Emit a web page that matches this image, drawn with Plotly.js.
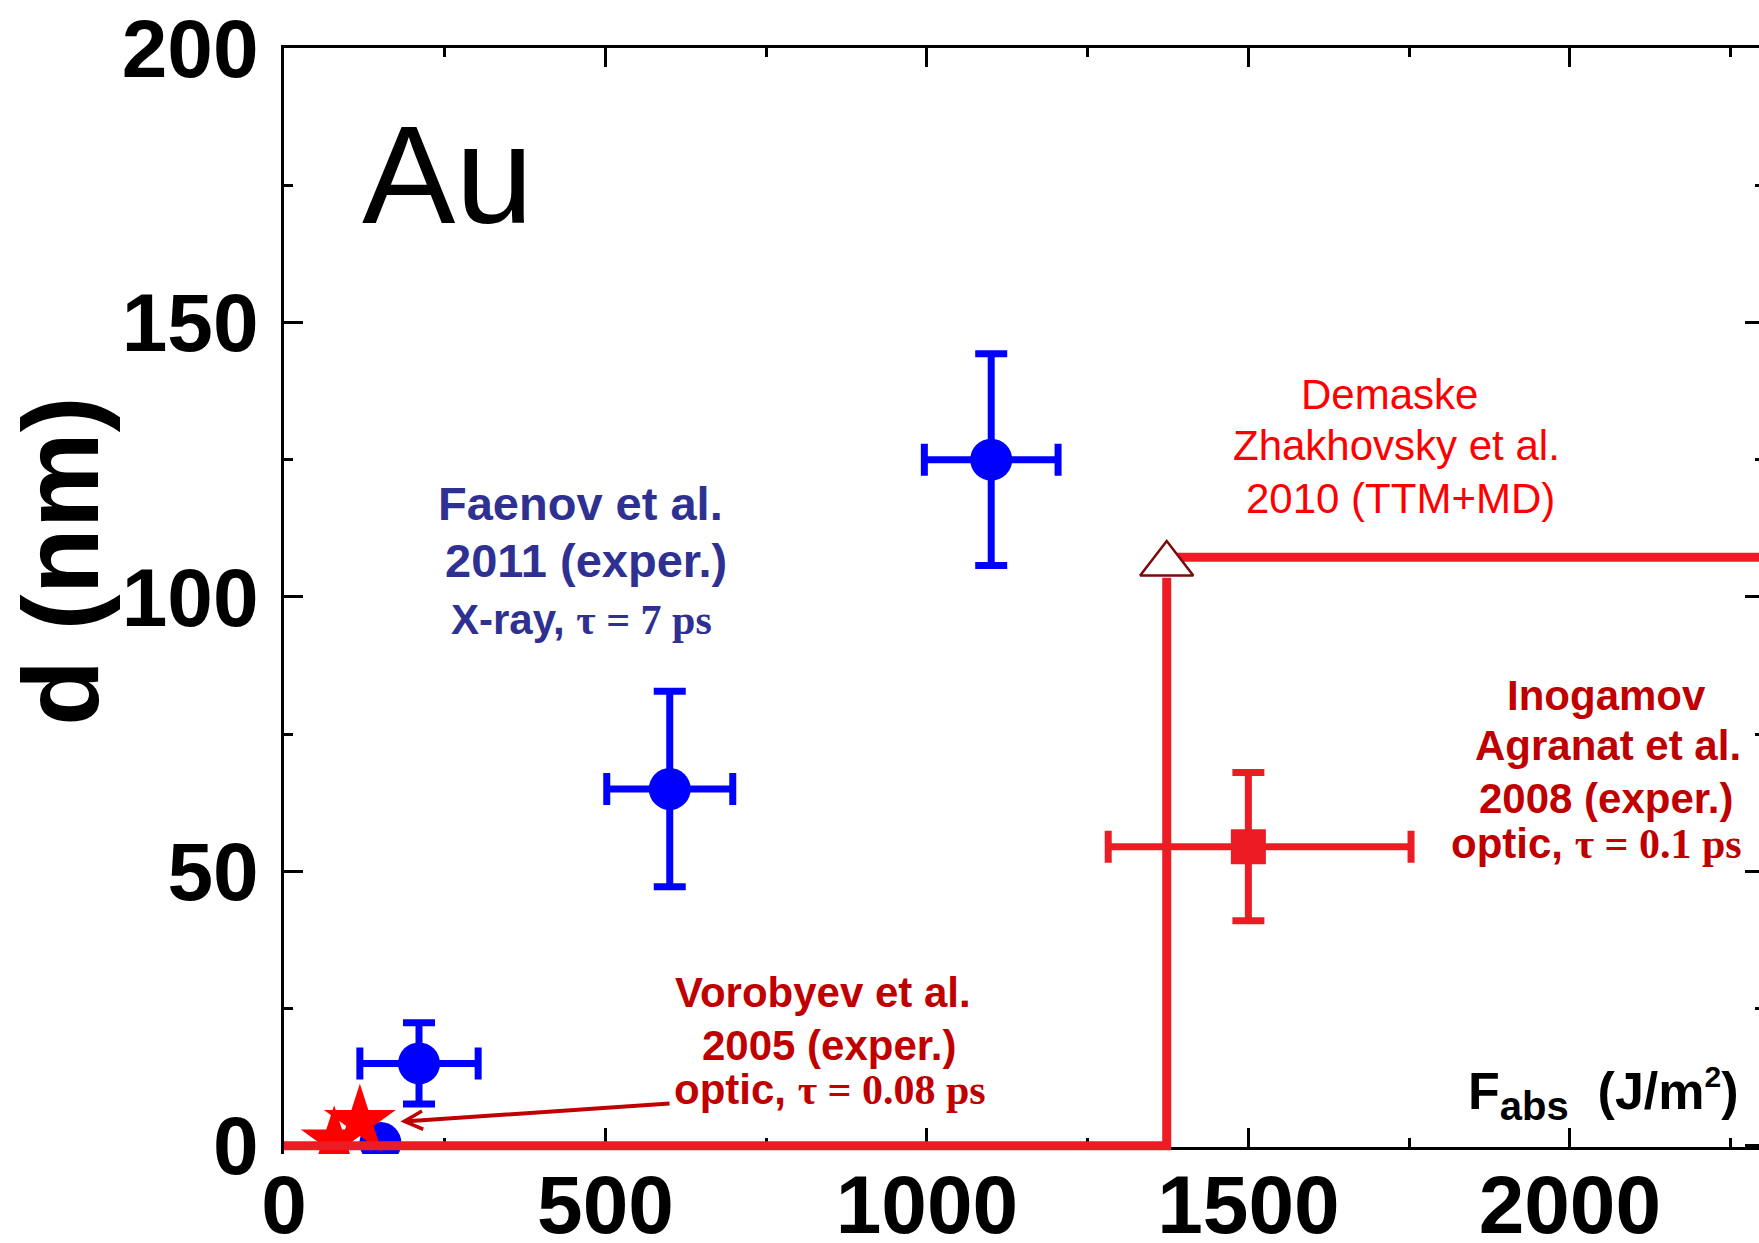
<!DOCTYPE html>
<html><head><meta charset="utf-8">
<script src="https://cdn.plot.ly/plotly-3.0.1.min.js"></script>
<style>html,body{margin:0;padding:0;overflow:hidden;background:#fff}</style>
</head><body><div id="chart" style="width:1764px;height:1243px"></div>
<script>
// ---- data ----
const faenovF = [210, 600, 1100];
const faenovD = [15, 65, 125];
const faenovFErr = [92, 98, 104];
const faenovDErr = [7.4, 17.8, 19.3];
const faenovLowF = [150];
const faenovLowD = [0.5];
const vorobyevF = [78, 118];
const vorobyevD = [1, 4.4];
const inogamovF = [1500];
const inogamovD = [54.5];
const inogamovFErrPlus = [253];
const inogamovFErrMinus = [218];
const inogamovDErr = [13.5];
const ttmLowF = [0, 1373, 1373];
const ttmLowD = [0, 0, 103.5];
const ttmThresholdF = [1373];
const ttmThresholdD = [106];
const ttmHighF = [1388, 2400];
const ttmHighD = [107.2, 107.2];
const xTickVals = [0, 500, 1000, 1500, 2000];
const xTickText = ['0', '500', '1000', '1500', '2000'];
const yTickVals = [0, 50, 100, 150, 200];
const yTickText = ['0', '50', '100', '150', '200'];

const SANS = 'Liberation Sans, Arial, sans-serif';
const SERIF = 'Liberation Serif';
const BLUE = '#0000ff', TXTBLUE = '#2e3192', DARKRED = '#c00000', RED = '#ed1c24', BRIGHT = '#ff0000';

const traces = [
  {x: faenovLowF, y: faenovLowD, mode: 'markers', type: 'scatter',
   marker: {symbol: 'circle', size: 42, color: BLUE}},
  {x: faenovF, y: faenovD, mode: 'markers', type: 'scatter',
   marker: {symbol: 'circle', size: 42, color: BLUE},
   error_x: {type: 'data', array: faenovFErr, color: BLUE, thickness: 7, width: 16},
   error_y: {type: 'data', array: faenovDErr, color: BLUE, thickness: 7, width: 16}},
  {x: vorobyevF, y: vorobyevD, mode: 'markers', type: 'scatter',
   marker: {symbol: 'star', size: [50, 54], color: BRIGHT, opacity: 1, line: {width: 0}}},
  {x: inogamovF, y: inogamovD, mode: 'markers', type: 'scatter',
   marker: {symbol: 'square', size: 35, color: RED},
   error_x: {type: 'data', symmetric: false, array: inogamovFErrPlus, arrayminus: inogamovFErrMinus, color: RED, thickness: 7, width: 16},
   error_y: {type: 'data', array: inogamovDErr, color: RED, thickness: 7, width: 16}},
  {x: ttmLowF, y: ttmLowD, mode: 'lines', type: 'scatter',
   line: {color: RED, width: 9}},
  {x: ttmHighF, y: ttmHighD, mode: 'lines', type: 'scatter',
   line: {color: RED, width: 9}},
  {x: ttmThresholdF, y: ttmThresholdD, mode: 'markers', type: 'scatter', xaxis: 'x2',
   marker: {symbol: 'triangle-up', size: 46, color: '#ffffff', line: {color: '#7a0a0a', width: 2.5}}}
];

function txt(text, x, y, size, color, weight) {
  return {text: text, x: x, y: y, xref: 'x', yref: 'y', showarrow: false,
          xanchor: 'center', yanchor: 'middle',
          font: {family: SANS, size: size, color: color, weight: weight || 'bold'}};
}
const tau = s => '<span style="font-family:' + SERIF + '">' + s + '</span>';

const annotations = [
  txt('Au', 253.6, 177, 140, '#000000', 'normal'),
  txt('Faenov et al.', 461, 117.1, 47, TXTBLUE),
  txt('2011 (exper.)', 470, 106.6, 47, TXTBLUE),
  txt('X-ray, ' + tau('τ = 7 ps'), 463, 95.8, 42, TXTBLUE),
  txt('Vorobyev et al.', 838, 27.9, 42, DARKRED),
  txt('2005 (exper.)', 848, 18.2, 42, DARKRED),
  txt('optic, ' + tau('τ = 0.08 ps'), 849, 10.2, 42, DARKRED),
  txt('Demaske', 1720, 136.8, 42, BRIGHT, 'normal'),
  txt('Zhakhovsky et al.', 1730, 127.5, 42, BRIGHT, 'normal'),
  txt('2010 (TTM+MD)', 1737, 118.0, 42, BRIGHT, 'normal'),
  txt('Inogamov', 2057, 82.1, 42, DARKRED),
  txt('Agranat et al.', 2060, 72.9, 42, DARKRED),
  txt('2008 (exper.)', 2057, 63.2, 42, DARKRED),
  txt('optic, ' + tau('τ = 0.1 ps'), 2041, 55.1, 42, DARKRED),
  Object.assign(txt('F<sub><span style="font-size:40px">abs</span></sub>  (J/m<sup><span style="font-size:30px">2</span></sup>)', 2266, 9.5, 52, '#000000'), {xanchor: 'right'}),
  {text: 'd (nm)', xref: 'paper', yref: 'paper', x: -0.1514, y: 0.536, textangle: -90,
   showarrow: false, xanchor: 'center', yanchor: 'middle',
   font: {family: SANS, size: 108, color: '#000', weight: 'bold'}},
  {text: '', x: 181, y: 4.4, xref: 'x', yref: 'y', ax: 602, ay: 7.7, axref: 'x', ayref: 'y',
   showarrow: true, arrowhead: 5, arrowsize: 0.9, arrowwidth: 4, arrowcolor: DARKRED, standoff: 0, startstandoff: 0}
];

const axisCommon = {
  showgrid: false, zeroline: false, showline: true, linecolor: '#000', linewidth: 3,
  ticks: 'inside', ticklen: 19, tickwidth: 3, tickcolor: '#000',
  tickfont: {family: SANS, size: 82, color: '#000', weight: 'bold'},
  tickmode: 'array', layer: 'below traces'
};

const layout = {
  width: 1764, height: 1243,
  margin: {l: 284, r: 0, t: 48, b: 89},
  paper_bgcolor: '#fff', plot_bgcolor: '#fff',
  showlegend: false,
  xaxis: Object.assign({}, axisCommon, {range: [0, 2302], tickvals: xTickVals, ticktext: xTickText,
    anchor: 'free', position: 0.0055, ticklabelstandoff: -15, mirror: false,
    minor: {dtick: 250, ticklen: 9, tickwidth: 3, tickcolor: '#000', ticks: 'inside'}}),
  xaxis2: Object.assign({}, axisCommon, {matches: 'x', overlaying: 'x', side: 'top', anchor: 'y',
    tickvals: xTickVals, showticklabels: false,
    minor: {dtick: 250, ticklen: 9, tickwidth: 3, tickcolor: '#000', ticks: 'inside'}}),
  yaxis: Object.assign({}, axisCommon, {range: [-1.5, 200], tickvals: yTickVals, ticktext: yTickText,
    ticklabelstandoff: 6, mirror: 'ticks',
    minor: {dtick: 25, ticklen: 9, tickwidth: 3, tickcolor: '#000', ticks: 'inside'}}),
  annotations: annotations
};

Plotly.newPlot('chart', traces, layout, {displayModeBar: false, staticPlot: true});
</script></body></html>
